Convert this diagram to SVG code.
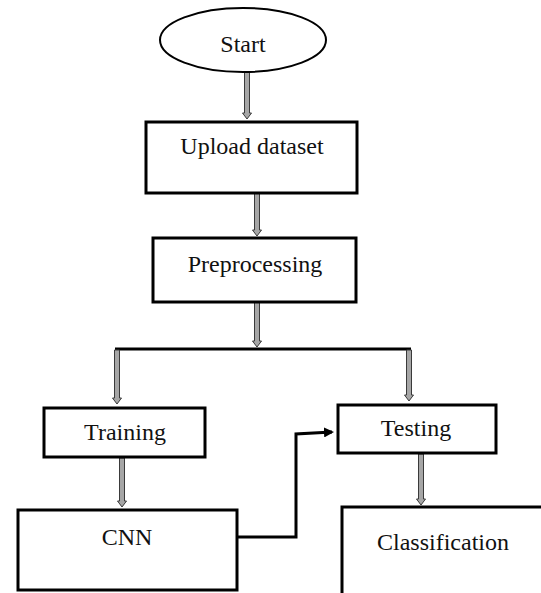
<svg xmlns="http://www.w3.org/2000/svg" width="541" height="593" viewBox="0 0 541 593">
<defs>
<style>
.box{fill:#fff;stroke:#000;stroke-width:3}
.lbl{font-family:"Liberation Serif","Times New Roman",serif;font-size:24px;fill:#111;text-anchor:middle}
.dbl{fill:#a6a6a6;stroke:#3a3a3a;stroke-width:1}
.ln{fill:none;stroke:#000;stroke-width:3}
</style>
<marker id="ah" markerWidth="10" markerHeight="10" refX="8" refY="5" orient="auto" markerUnits="userSpaceOnUse" viewBox="0 0 10 10">
<path d="M0,0 L10,5 L0,10 Z" fill="#000"/>
</marker>
</defs>
<rect width="541" height="593" fill="#fff"/>
<g id="connectors">
<polygon class="dbl" points="244.5,72 244.5,113 242.5,113 247,119 251.5,113 249.5,113 249.5,72"/>
<polygon class="dbl" points="254.5,193 254.5,230 252.5,230 257,236 261.5,230 259.5,230 259.5,193"/>
<polygon class="dbl" points="254.5,302 254.5,341 252.5,341 257,347 261.5,341 259.5,341 259.5,302"/>
<line class="ln" x1="115" y1="349" x2="411" y2="349"/>
<polygon class="dbl" points="114.5,350 114.5,398 112.5,398 117,404 121.5,398 119.5,398 119.5,350"/>
<polygon class="dbl" points="406.5,350 406.5,395 404.5,395 409,401 413.5,395 411.5,395 411.5,350"/>
<polygon class="dbl" points="119.5,458 119.5,501 117.5,501 122,507 126.5,501 124.5,501 124.5,458"/>
<polygon class="dbl" points="418.5,454 418.5,499 416.5,499 421,505 425.5,499 423.5,499 423.5,454"/>
<polyline class="ln" points="237,537 296,537 296,434 332,432" marker-end="url(#ah)"/>
</g>
<g id="start">
<ellipse cx="243" cy="40" rx="83" ry="32" fill="#fff" stroke="#000" stroke-width="2"/>
<text class="lbl" x="243" y="52">Start</text>
</g>
<g id="upload">
<rect class="box" x="146" y="122" width="211" height="71"/>
<text class="lbl" x="252" y="154">Upload dataset</text>
</g>
<g id="preprocessing">
<rect class="box" x="153" y="238" width="203" height="64"/>
<text class="lbl" x="255" y="272">Preprocessing</text>
</g>
<g id="training">
<rect class="box" x="44" y="408" width="161" height="49"/>
<text class="lbl" x="125" y="440">Training</text>
</g>
<g id="testing">
<rect class="box" x="338" y="405" width="158" height="48"/>
<text class="lbl" x="416" y="436">Testing</text>
</g>
<g id="cnn">
<rect class="box" x="18" y="510" width="219" height="80"/>
<text class="lbl" x="127" y="545">CNN</text>
</g>
<g id="classification">
<rect class="box" x="342" y="507" width="230" height="120"/>
<text class="lbl" x="443" y="550">Classification</text>
</g>
</svg>
